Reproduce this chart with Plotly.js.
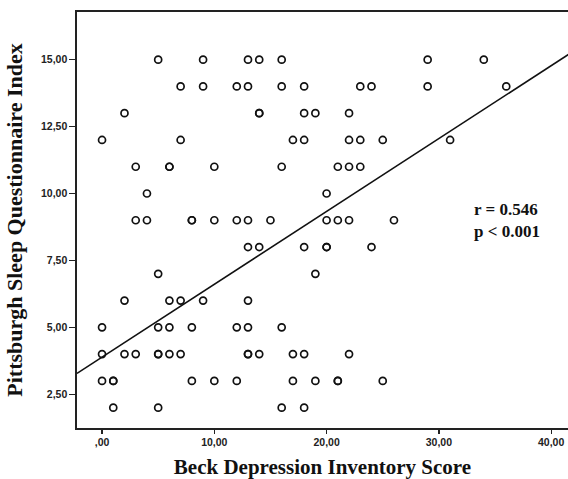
<!DOCTYPE html>
<html>
<head>
<meta charset="utf-8">
<script src="https://cdn.plot.ly/plotly-3.0.1.min.js"></script>
<style>html,body{margin:0;padding:0;background:#fff;}#chart{width:568px;height:479px;}</style>
</head>
<body>
<div id="chart"></div>
<script>
// Beck Depression Inventory score (x) vs Pittsburgh Sleep Questionnaire Index (y)
const bdi = [
  5, 9, 13, 14, 16, 29, 34,
  7, 9, 12, 13, 16, 18, 23, 24, 29, 36,
  2, 14, 14, 18, 19, 22,
  0, 7, 17, 18, 22, 23, 25, 31,
  3, 6, 6, 10, 16, 21, 22, 23,
  4, 20,
  3, 4, 8, 8, 10, 12, 13, 15, 20, 21, 22, 26,
  13, 14, 18, 20, 20, 24,
  5, 19,
  2, 6, 7, 9, 13,
  0, 5, 6, 8, 12, 13, 16,
  0, 2, 3, 5, 5, 6, 7, 13, 13, 14, 17, 18, 22,
  0, 1, 1, 8, 10, 12, 17, 19, 21, 21, 25,
  1, 5, 16, 18
];
const psqi = [
  15, 15, 15, 15, 15, 15, 15,
  14, 14, 14, 14, 14, 14, 14, 14, 14, 14,
  13, 13, 13, 13, 13, 13,
  12, 12, 12, 12, 12, 12, 12, 12,
  11, 11, 11, 11, 11, 11, 11, 11,
  10, 10,
  9, 9, 9, 9, 9, 9, 9, 9, 9, 9, 9, 9,
  8, 8, 8, 8, 8, 8,
  7, 7,
  6, 6, 6, 6, 6,
  5, 5, 5, 5, 5, 5, 5,
  4, 4, 4, 4, 4, 4, 4, 4, 4, 4, 4, 4, 4,
  3, 3, 3, 3, 3, 3, 3, 3, 3, 3, 3,
  2, 2, 2, 2
];
// fitted regression line
const fitX = [-2.23, 41.6];
const fitY = [3.28, 15.21];

const xTickVals = [0, 10, 20, 30, 40];
const xTickText = [',00', '10,00', '20,00', '30,00', '40,00'];
const yTickVals = [2.5, 5, 7.5, 10, 12.5, 15];
const yTickText = ['2,50', '5,00', '7,50', '10,00', '12,50', '15,00'];

const statLines = ['r = 0.546', 'p < 0.001'];
const statY = [9.4, 8.58];
const statX = 32.95;

const serif = '"Liberation Serif", "Times New Roman", serif';
const sans = '"Liberation Sans", Arial, sans-serif';

const traces = [
  {
    x: bdi, y: psqi, type: 'scatter', mode: 'markers',
    marker: {symbol: 'circle-open', size: 7, color: '#111', line: {width: 1.7, color: '#111'}},
    hoverinfo: 'x+y', showlegend: false
  },
  {
    x: fitX, y: fitY, type: 'scatter', mode: 'lines',
    line: {color: '#111', width: 1.6}, showlegend: false, hoverinfo: 'skip'
  }
];

const layout = {
  width: 568, height: 479,
  margin: {l: 77, r: 0, t: 12, b: 51},
  paper_bgcolor: '#fff', plot_bgcolor: '#fff',
  showlegend: false,
  xaxis: {
    range: [-2.23, 41.5], showgrid: false, zeroline: false,
    showline: true, linecolor: '#222', linewidth: 1.6, mirror: true,
    ticks: 'outside', ticklen: 4, tickwidth: 1.3, tickcolor: '#222',
    tickvals: xTickVals, ticktext: xTickText,
    tickfont: {family: sans, size: 10.5, color: '#222', weight: 'bold'},
    automargin: false,
    title: {text: 'Beck Depression Inventory Score', font: {family: serif, size: 21, color: '#111', weight: 'bold'}}
  },
  yaxis: {
    range: [1.24, 16.78], showgrid: false, zeroline: false,
    showline: true, linecolor: '#222', linewidth: 1.6, mirror: false,
    ticks: 'outside', ticklen: 6, tickwidth: 1.3, tickcolor: '#222',
    tickvals: yTickVals, ticktext: yTickText,
    tickfont: {family: sans, size: 10.5, color: '#222', weight: 'bold'},
    automargin: false,
    title: {text: 'Pittsburgh Sleep Questionnaire Index', font: {family: serif, size: 22, color: '#111', weight: 'bold'}}
  },
  annotations: statLines.map((t, i) => ({
    x: statX, y: statY[i], xref: 'x', yref: 'y', text: t, showarrow: false,
    xanchor: 'left', yanchor: 'middle',
    font: {family: serif, size: 17, color: '#111', weight: 'bold'}
  }))
};

Plotly.newPlot('chart', traces, layout, {displayModeBar: false, staticPlot: true});
</script>
</body>
</html>
